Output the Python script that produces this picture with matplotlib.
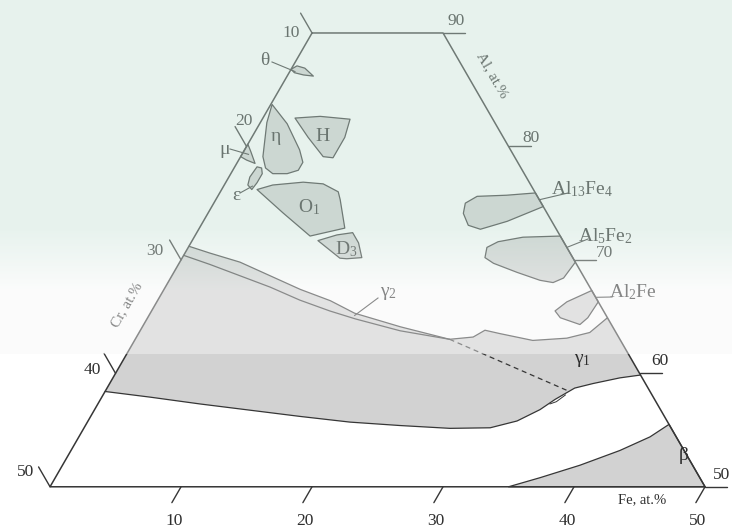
import numpy as np
import matplotlib
matplotlib.use("Agg")
import matplotlib.pyplot as plt
from matplotlib.patches import Polygon

plt.rcParams["font.family"] = ["Liberation Serif", "DejaVu Serif"]
plt.rcParams["mathtext.fontset"] = "custom"
plt.rcParams["mathtext.rm"] = "Liberation Serif"
plt.rcParams["mathtext.it"] = "Liberation Serif:italic"

# ---------------- phase fields, (Fe at.%, Cr at.%); Al is the balance ----------------
theta_fe = [0.0, 0.3, 1.0, 2.0, 1.2, 0.4]
theta_cr = [13.2, 12.6, 12.1, 11.8, 12.5, 13.1]

eta_fe = [0.1, 2.1, 4.2, 5.0, 5.0, 4.3, 3.2, 2.4, 1.7, 0.5]
eta_cr = [16.2, 15.9, 16.1, 16.4, 17.1, 18.1, 19.2, 19.5, 19.2, 17.4]

H_fe = [2.45, 4.3, 6.7, 7.1, 7.1, 6.3, 4.3]
H_cr = [15.05, 13.05, 10.9, 12.1, 13.9, 14.6, 14.9]

mu_fe = [0.0, 0.55, 1.4, 0.6, 0.0]
mu_cr = [19.8, 19.9, 20.1, 20.6, 20.9]

eps_fe = [2.3, 1.8, 1.6, 1.7, 2.1, 2.4, 2.4]
eps_cr = [21.5, 21.6, 21.1, 20.1, 19.8, 20.0, 20.8]

O1_fe = [2.7, 3.7, 5.9, 7.5, 9.0, 9.5, 11.1, 8.8, 5.7]
O1_cr = [21.1, 19.7, 17.25, 15.8, 15.0, 15.2, 16.1, 19.1, 20.15]

D3_fe = [9.6, 10.8, 11.9, 12.8, 13.7, 12.6, 12.05]
D3_cr = [18.7, 17.0, 15.7, 15.7, 16.1, 17.3, 17.8]

al13fe4_fe = [24.1, 22.0, 19.8, 19.2, 19.5, 20.4, 21.5, 23.2, 25.3]
al13fe4_cr = [0.0, 2.3, 4.6, 5.8, 6.4, 6.55, 5.8, 3.4, 0.0]

al5fe2_fe = [27.9, 25.1, 23.4, 22.8, 23.1, 24.0, 26.2, 28.3, 29.4, 30.0, 30.2]
al5fe2_cr = [0.0, 2.9, 5.0, 6.1, 6.7, 6.3, 4.9, 3.5, 2.6, 1.6, 0.0]

al2fe_fe = [30.8, 31.3, 32.7, 33.7, 33.6, 33.3, 31.5]
al2fe_cr = [3.7, 2.4, 0.0, 0.0, 1.5, 2.4, 3.6]

# gamma2 field: upper and lower boundaries from the Al-Cr side
g2_top_fe = [0.0, 1.9, 4.6, 7.5, 10.4, 13.2, 15.6, 19.7, 24.0]
g2_top_cr = [28.8, 27.5, 25.6, 23.9, 22.2, 20.4, 19.1, 16.2, 13.0]
g2_bot_fe = [0.0, 2.4, 5.2, 8.0, 10.85, 13.6, 15.9, 19.85, 24.0]
g2_bot_cr = [29.6, 28.0, 26.2, 24.4, 22.7, 20.9, 19.3, 16.4, 13.0]

# gamma1 field: upper boundary to the Al-Fe side, lower boundary back to the Al-Cr side
g1_top_fe = [24.0, 25.7, 26.3, 27.6, 30.4, 32.9, 34.4, 35.1]
g1_top_cr = [13.0, 11.1, 9.9, 8.9, 6.7, 4.0, 2.0, 0.0]
low_fe = [40.15, 38.7, 36.9, 35.7, 35.3, 34.7, 34.0, 32.75, 31.0, 27.95, 24.0,
          20.05, 16.0, 11.9, 7.8, 3.7, 0.0]
low_cr = [0.0, 1.7, 4.0, 5.6, 6.4, 7.6, 9.2, 11.45, 13.8, 16.9, 20.6,
          24.25, 27.8, 31.35, 34.9, 38.4, 41.6]
# thin sliver where the tie line meets the lower boundary
sliver_fe = [35.3, 34.9, 34.5]
sliver_cr = [6.6, 7.6, 8.2]

tie_fe = [24.0, 35.2]
tie_cr = [13.0, 6.3]

beta_fe = [35.0, 37.0, 39.5, 41.9, 43.6, 44.5, 50.0]
beta_cr = [15.0, 12.2, 8.6, 4.9, 2.0, 0.0, 0.0]

# axis ticks
cr_ticks = [10, 20, 30, 40, 50]
al_ticks = [90, 80, 70, 60, 50]
fe_ticks = [10, 20, 30, 40, 50]

SQ = np.sqrt(3) / 2
W, H = 732, 528
XMIN, XMAX = 21.18, 21.18 + W / 13.1
YMAX = 80.46
YMIN = YMAX - H / 13.1


def tern(fe, cr):
    fe = np.asarray(fe, float)
    cr = np.asarray(cr, float)
    al = 100.0 - fe - cr
    return fe + al / 2.0, al * SQ


def px(x, y):
    """figure pixel position -> data coordinates (for label placement)"""
    return XMIN + x / 13.1, YMAX - y / 13.1


LINE = "#363636"
FILL = "#d2d2d2"
TXT = "#2e2e2e"

fig = plt.figure(figsize=(W / 100, H / 100), dpi=100)
ax = fig.add_axes([0, 0, 1, 1])
ax.set_xlim(XMIN, XMAX)
ax.set_ylim(YMIN, YMAX)
ax.axis("off")


def field(fe, cr, fc=FILL, lw=0.9):
    x, y = tern(fe, cr)
    ax.add_patch(Polygon(np.column_stack([x, y]), closed=True, fc=fc,
                         ec=LINE, lw=lw, zorder=2, joinstyle="round"))


def curve(fe, cr, **kw):
    x, y = tern(fe, cr)
    kw.setdefault("color", LINE)
    kw.setdefault("lw", 0.9)
    ax.plot(x, y, zorder=3, solid_capstyle="round", **kw)


# big gamma band
band_fe = g2_top_fe + g1_top_fe[1:] + low_fe
band_cr = g2_top_cr + g1_top_cr[1:] + low_cr
bx, by = tern(band_fe, band_cr)
ax.add_patch(Polygon(np.column_stack([bx, by]), closed=True, fc=FILL,
                     ec="none", zorder=1))
curve(g2_top_fe, g2_top_cr)
curve(g2_bot_fe, g2_bot_cr)
curve(g1_top_fe, g1_top_cr)
curve(low_fe, low_cr)
curve(sliver_fe, sliver_cr, lw=0.7)
curve(tie_fe, tie_cr, ls=(0, (4, 3)))

for fe, cr in [(theta_fe, theta_cr), (eta_fe, eta_cr), (H_fe, H_cr),
               (mu_fe, mu_cr), (eps_fe, eps_cr), (O1_fe, O1_cr),
               (D3_fe, D3_cr), (al13fe4_fe, al13fe4_cr),
               (al5fe2_fe, al5fe2_cr), (al2fe_fe, al2fe_cr),
               (beta_fe, beta_cr)]:
    field(fe, cr)

# frame of the Al-rich section
curve([0, 10, 50, 0, 0], [10, 0, 0, 50, 10], lw=1.1)

# ticks
for c in cr_ticks:
    curve([0, -1.75], [c, c], lw=1.0)
for a in al_ticks:
    curve([100 - a, 100 - a + 1.7], [0, -1.7], lw=1.0)
for f in fe_ticks:
    curve([f, f], [50 - f, 50 - f + 1.4], lw=1.0)

NUM = 12.5
for c, (x, y) in zip(cr_ticks, [(291, 33), (244, 121), (155, 251), (92, 370), (26, 472)]):
    ax.text(*px(x, y), str(c), fontsize=NUM, color=TXT, ha="center", va="center")
for a, (x, y) in zip(al_ticks, [(456, 21), (531, 138), (605, 253), (660, 361), (722, 475)]):
    ax.text(*px(x, y), str(a), fontsize=NUM, color=TXT, ha="center", va="center")
for f, (x, y) in zip(fe_ticks, [(174, 521), (305, 521), (436, 521), (567, 521), (698, 521)]):
    ax.text(*px(x, y), str(f), fontsize=NUM, color=TXT, ha="center", va="center")

ax.text(*px(492, 75), "Al, at.%", fontsize=11, color=TXT, ha="center",
        va="center", rotation=-60)
ax.text(*px(127, 305), "Cr, at.%", fontsize=11, color=TXT, ha="center",
        va="center", rotation=60)
ax.text(*px(642, 500), "Fe, at.%", fontsize=10.5, color=TXT, ha="center",
        va="center")

# phase labels
LAB = 14
labels = [("θ", 265, 60), ("η", 276, 136), ("H", 323, 136), ("μ", 225, 149),
          ("ε", 236, 195), ("O$_1$", 309, 207), ("D$_3$", 346, 249),
          ("Al$_{13}$Fe$_4$", 582, 189), ("Al$_5$Fe$_2$", 605, 236),
          ("Al$_2$Fe", 633, 292), ("γ$_2$", 388, 294), ("γ$_1$", 582, 360),
          ("β", 684, 455)]
for s, x, y in labels:
    ax.text(*px(x, y), s, fontsize=LAB, color=TXT, ha="center", va="center")

# leader lines: label side in pixels, field side in composition
leaders = [((272, 62), (0.4, 13.0)), ((230, 149), (0.5, 20.2)),
           ((240, 193), (2.2, 21.3)), ((568, 193), (24.7, 0.0)),
           ((588, 239), (28.9, 0.0)), ((612, 297), (33.3, 0.0)),
           ((378, 298), (15.7, 19.2))]
for (x0, y0), (fe, cr) in leaders:
    X0, Y0 = px(x0, y0)
    X1, Y1 = tern(fe, cr)
    ax.plot([X0, X1], [Y0, Y1], color=LINE, lw=0.8, zorder=3)

# pale library watermark over the upper part of the sheet:
# mint tint at the top, a whitish wash lower down, cut off at row 354
ov = np.zeros((H, W, 4))
rows = np.arange(H)[:, None].astype(float)
mint = np.array([0.776, 0.882, 0.835])
wash = np.array([0.97, 0.975, 0.975])
t = np.clip((rows - 230) / 60.0, 0, 1)[..., None]
ov[..., :3] = mint * (1 - t) + wash * t
alpha = np.where(rows < 230, 0.40, np.where(rows < 354, 0.40 + 0.04 * np.clip((rows - 230) / 60, 0, 1), 0.0))
ov[..., 3] = np.broadcast_to(alpha, (H, W))
ax.imshow(ov, extent=(XMIN, XMAX, YMIN, YMAX), origin="upper", aspect="auto",
          zorder=10, interpolation="nearest")
ax.set_xlim(XMIN, XMAX)
ax.set_ylim(YMIN, YMAX)

fig.savefig("out.png", dpi=100)
